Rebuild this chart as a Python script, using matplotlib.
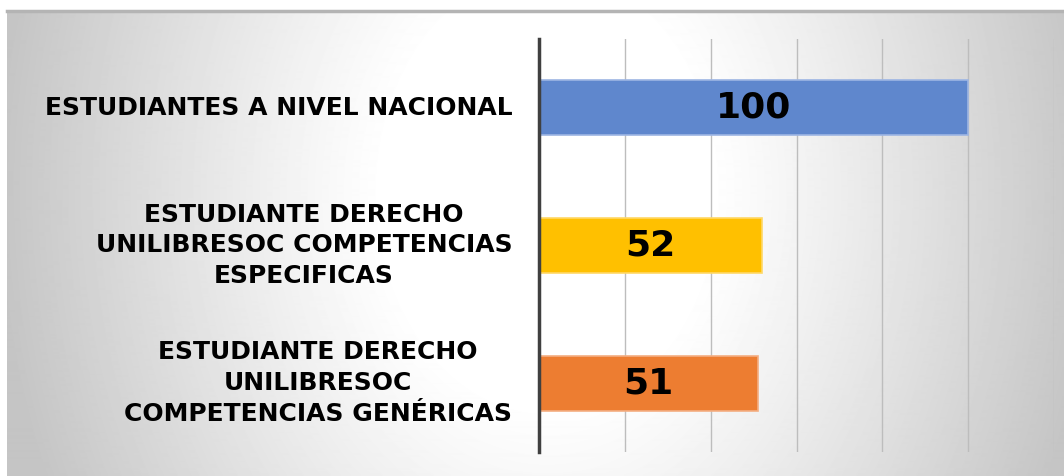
import numpy as np
import matplotlib.pyplot as plt

# data
categories = [
    "ESTUDIANTES A NIVEL NACIONAL",
    "ESTUDIANTE DERECHO\nUNILIBRESOC COMPETENCIAS\nESPECIFICAS",
    "ESTUDIANTE DERECHO\nUNILIBRESOC\nCOMPETENCIAS GENÉRICAS",
]
values = [100, 52, 51]
colors = ["#5F87CD", "#FFC000", "#ED7D31"]
edges = ["#9DB5E3", "#FFD866", "#F4AE82"]

W, H = 1064, 476
fig = plt.figure(figsize=(W / 100, H / 100), dpi=100)
fig.patch.set_facecolor("white")

# radial grey background panel
bg = fig.add_axes([7 / W, 0, 1 - 7 / W, (H - 12) / H])
yy, xx = np.mgrid[0:465, 0:1057]
d = np.sqrt(((xx - 540) / 540.0) ** 2 + ((yy - 180) / 700.0) ** 2)
t = np.clip((d - 0.3) / 0.72, 0, 1) ** 1.1
shade = 1.0 - 0.23 * t
bg.imshow(shade, cmap="gray", vmin=0, vmax=1, aspect="auto", interpolation="bilinear")
bg.axis("off")
fig.add_artist(plt.Line2D([7 / W, 1], [(H - 11) / H] * 2, color="#b4b4b4", lw=2.5))

ax = fig.add_axes([539 / W, (H - 452) / H, (1054 - 539) / W, 413 / H])
ax.set_facecolor("none")
y = np.arange(len(values))
ax.barh(y, values, height=0.4, color=colors, edgecolor=edges, linewidth=1.2, zorder=3)
ax.set_xlim(0, 120)
ax.set_ylim(len(values) - 0.5, -0.5)
ax.set_xticks(range(0, 121, 20))
ax.grid(axis="x", color="#bdbdbd", lw=1, zorder=1)
ax.tick_params(length=0, labelbottom=False, labelleft=False)
for s in ["top", "right", "bottom"]:
    ax.spines[s].set_visible(False)
ax.spines["left"].set_color("#404040")
ax.spines["left"].set_linewidth(2.5)
ax.spines["left"].set_zorder(4)

for yi, v, lab in zip(y, values, categories):
    ax.text(v / 2, yi, str(v), ha="center", va="center", fontsize=26,
            fontweight="bold", family="DejaVu Sans", color="black", zorder=5)
    ax.text(-0.052, yi, lab, transform=ax.get_yaxis_transform(), ha="right",
            va="center", multialignment="center", fontsize=18,
            fontweight="bold", family="DejaVu Sans", linespacing=1.36, color="black")

fig.savefig("out.png", dpi=100)
